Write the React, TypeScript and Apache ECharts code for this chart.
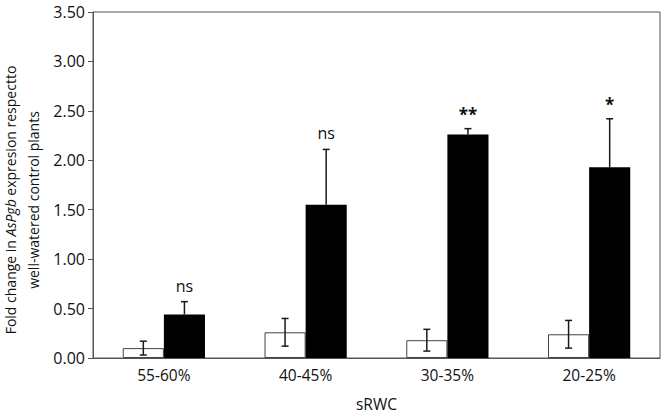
import React, { useEffect, useRef } from "react";
import * as echarts from "echarts";

const categories = ["55-60%", "40-45%", "30-35%", "20-25%"];
const controlValues = [0.1, 0.26, 0.18, 0.24];
const controlErrors = [0.07, 0.14, 0.11, 0.14];
const droughtValues = [0.44, 1.55, 2.26, 1.93];
const droughtErrors = [0.13, 0.56, 0.06, 0.49];
const significance = ["ns", "ns", "**", "*"];
const yTicks = [0, 0.5, 1, 1.5, 2, 2.5, 3, 3.5];

const FONT = "'Open Sans', 'Noto Sans', sans-serif";
const CAT_GAP = 0.42;
const TXT = "#111";

export default function App() {
  const ref = useRef<HTMLDivElement>(null);
  useEffect(() => {
    if (!ref.current) return;
    const chart = echarts.init(ref.current, null, { renderer: "svg" });

    const errData: any[] = [];
    categories.forEach((_, i) => {
      errData.push([i, controlValues[i], controlErrors[i], 0, ""]);
      errData.push([i, droughtValues[i], droughtErrors[i], 1, significance[i]]);
    });

    const renderItem = (params: any, api: any) => {
      const ci = api.value(0);
      const mean = api.value(1);
      const err = api.value(2);
      const side = api.value(3);
      const sig = errData[params.dataIndex][4];
      const band = api.size([1, 0])[0];
      const barW = (band * (1 - CAT_GAP)) / 2;
      const center = api.coord([ci, mean]);
      const x = center[0] + (side === 0 ? -barW / 2 : barW / 2);
      const top = api.coord([ci, mean + err])[1];
      const bot =
        side === 0 ? api.coord([ci, Math.max(0, mean - err)])[1] : center[1];
      const cap = 3.5;
      const st = { stroke: "#1a1a1a", lineWidth: 1.5 };
      const children: any[] = [
        { type: "line", shape: { x1: x, y1: top, x2: x, y2: bot }, style: st },
        { type: "line", shape: { x1: x - cap, y1: top, x2: x + cap, y2: top }, style: st },
      ];
      if (side === 0) {
        children.push({ type: "line", shape: { x1: x - cap, y1: bot, x2: x + cap, y2: bot }, style: st });
      }
      if (sig) {
        const star = sig.indexOf("*") >= 0;
        children.push({
          type: "text",
          x: x,
          y: top - (star ? 14 : 16),
          style: {
            text: sig,
            fontSize: star ? 17 : 16,
            fontFamily: FONT,
            fontWeight: star ? "bold" : "normal",
            fill: TXT,
            align: "center",
            verticalAlign: "middle",
          },
        });
      }
      return { type: "group", children };
    };

    chart.setOption({
      animation: false,
      grid: {
        left: 93,
        right: 4,
        top: 12,
        bottom: 56,
        show: true,
        borderColor: "#555",
        borderWidth: 1,
        backgroundColor: "transparent",
      },
      xAxis: {
        type: "category",
        data: categories,
        axisLine: { show: true, lineStyle: { color: "#555", width: 1 } },
        axisTick: { show: false },
        axisLabel: { color: TXT, fontSize: 15.5, fontFamily: FONT, margin: 9 },
        name: "sRWC",
        nameLocation: "middle",
        nameGap: 38,
        nameTextStyle: { color: TXT, fontSize: 15.5, fontFamily: FONT },
      },
      yAxis: {
        type: "value",
        min: yTicks[0],
        max: yTicks[yTicks.length - 1],
        interval: 0.5,
        splitLine: { show: false },
        axisLine: { show: true, lineStyle: { color: "#555", width: 1 } },
        axisTick: { show: true, inside: false, length: 5, lineStyle: { color: "#555" } },
        axisLabel: {
          color: TXT,
          fontSize: 16,
          fontFamily: FONT,
          margin: 8,
          formatter: (v: number) => v.toFixed(2),
        },
      },
      graphic: [
        {
          type: "text",
          x: 21.5,
          y: 200,
          rotation: Math.PI / 2,
          style: {
            text: "Fold change in {i|AsPgb} expresion respectto\nwell-watered control plants",
            fontSize: 14,
            fontFamily: FONT,
            fill: TXT,
            lineHeight: 23,
            align: "center",
            verticalAlign: "middle",
            rich: {
              i: { fontStyle: "italic", fontSize: 14, fontFamily: FONT, fill: TXT, lineHeight: 23 },
            },
          },
        },
      ],
      series: [
        {
          type: "bar",
          name: "Control",
          data: controlValues,
          barGap: "0%",
          barCategoryGap: CAT_GAP * 100 + "%",
          itemStyle: { color: "#ffffff", borderColor: "#444", borderWidth: 1 },
        },
        {
          type: "bar",
          name: "Drought",
          data: droughtValues,
          barGap: "0%",
          barCategoryGap: CAT_GAP * 100 + "%",
          itemStyle: { color: "#000000", borderColor: "#000", borderWidth: 0 },
        },
        {
          type: "custom",
          renderItem,
          data: errData,
          z: 10,
          encode: { x: 0, y: 1 },
        },
      ],
    });
    return () => chart.dispose();
  }, []);
  return <div ref={ref} style={{ width: 664, height: 417, position: "absolute", left: 0, top: 0 }} />;
}
